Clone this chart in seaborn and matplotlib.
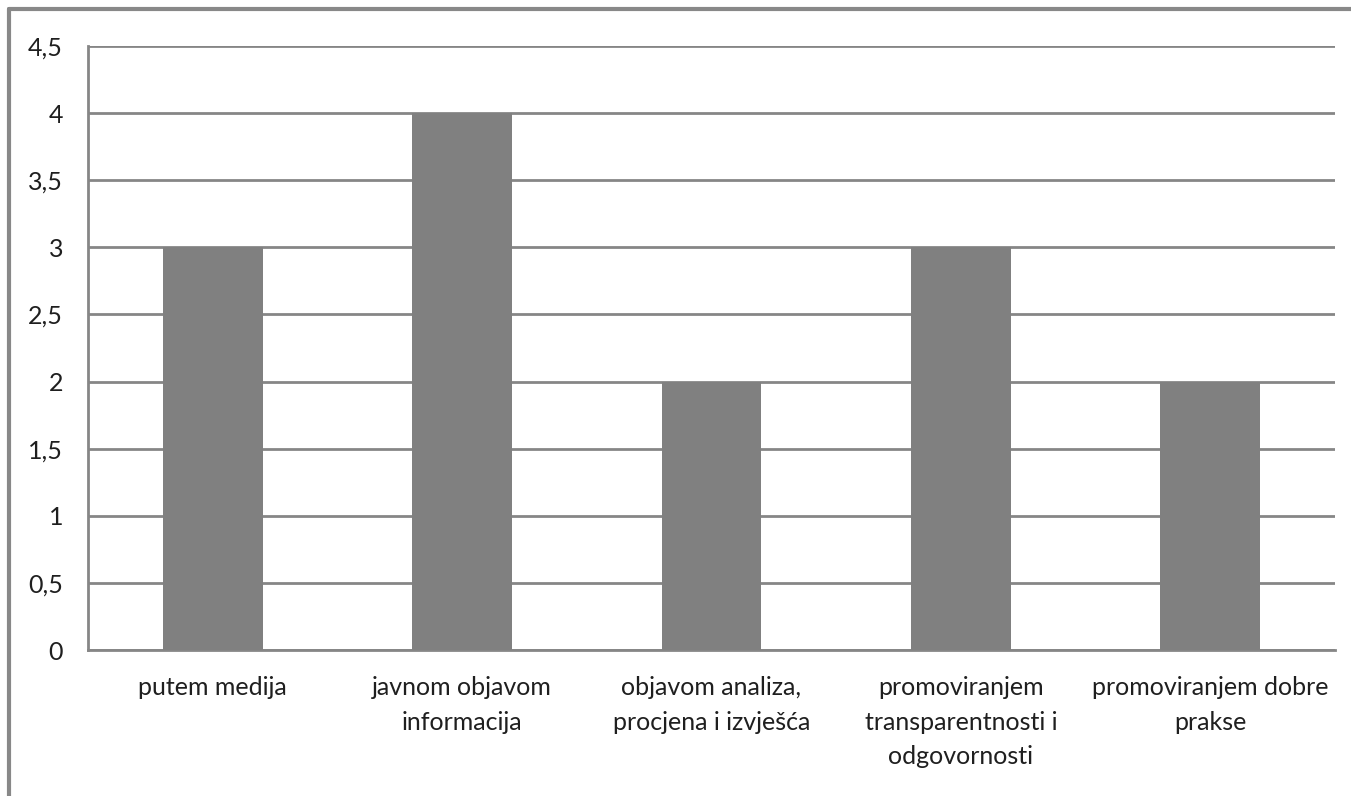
import matplotlib
matplotlib.use("Agg")
import matplotlib.pyplot as plt
from matplotlib.lines import Line2D
import seaborn as sns
import pandas as pd

categories = [
    "putem medija",
    "javnom objavom\ninformacija",
    "objavom analiza,\nprocjena i izvješća",
    "promoviranjem\ntransparentnosti i\nodgovornosti",
    "promoviranjem dobre\nprakse",
]
values = [3, 4, 2, 3, 2]
y_ticks = [0, 0.5, 1, 1.5, 2, 2.5, 3, 3.5, 4, 4.5]
y_labels = ["0", "0,5", "1", "1,5", "2", "2,5", "3", "3,5", "4", "4,5"]

sns.set_style("white")
plt.rcParams["font.family"] = ["Lato", "DejaVu Sans"]

df = pd.DataFrame({"cat": categories, "val": values})

grid_c = "#868686"
txt_c = "#1f1f1f"
fig = plt.figure(figsize=(13.51, 7.96), dpi=100)
ax = fig.add_axes([88 / 1351, 1 - 650 / 796, (1335 - 88) / 1351, (650 - 46) / 796])

sns.barplot(df, x="cat", y="val", color="#808080", saturation=1, width=0.4, ax=ax, zorder=3)
for p in ax.patches:
    p.set_edgecolor("none")

ax.set_ylim(0, 4.5)
ax.set_xlim(-0.5, len(categories) - 0.5)
ax.set_yticks(y_ticks)
ax.set_yticklabels(y_labels, fontsize=18, color=txt_c)
ax.yaxis.grid(True, color=grid_c, linewidth=2)
ax.set_axisbelow(True)

# category boundaries as major ticks, labels on minor ticks
ax.set_xticks([i - 0.5 for i in range(len(categories) + 1)])
ax.set_xticklabels([""] * (len(categories) + 1))
ax.set_xticks(range(len(categories)), minor=True)
ax.set_xticklabels(categories, minor=True, fontsize=18, color=txt_c, linespacing=1.6)
ax.tick_params(axis="x", which="major", length=8, width=2, color=grid_c, direction="out")
ax.tick_params(axis="x", which="minor", length=0, pad=19)
ax.tick_params(axis="y", length=8, width=2, color=grid_c, pad=10)

ax.set_xlabel("")
ax.set_ylabel("")
for s in ["top", "right"]:
    ax.spines[s].set_visible(False)
for s in ["left", "bottom"]:
    ax.spines[s].set_color(grid_c)
    ax.spines[s].set_linewidth(2)

# outer chart border (top and left visible)
fig.add_artist(Line2D([9 / 1351, 1], [1 - 9 / 796, 1 - 9 / 796], color="#888888", linewidth=3, transform=fig.transFigure))
fig.add_artist(Line2D([9 / 1351, 9 / 1351], [0, 1 - 9 / 796], color="#888888", linewidth=3, transform=fig.transFigure))

fig.savefig("out.png", dpi=100)
